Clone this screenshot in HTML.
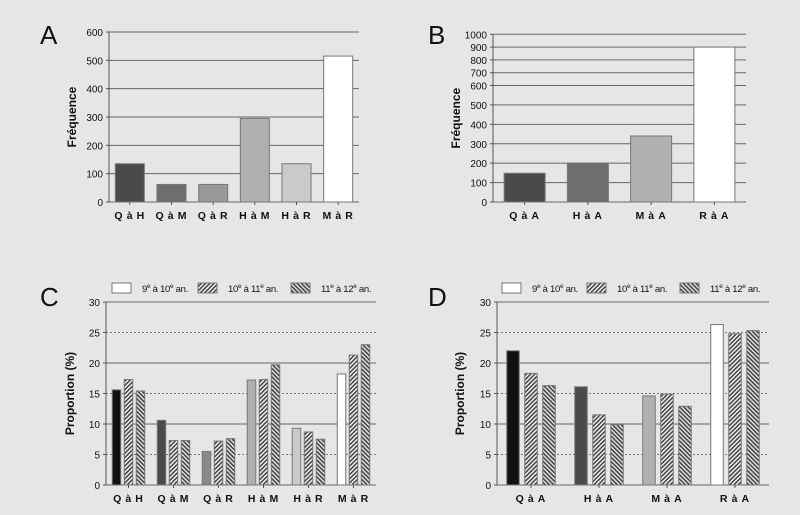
<!DOCTYPE html>
<html><head><meta charset="utf-8"><style>
html,body{margin:0;padding:0;background:#e6e6e6;}
svg{display:block;font-family:"Liberation Sans",sans-serif;}
</style></head><body>
<svg id="fig" width="800" height="515" viewBox="0 0 800 515">
<defs>
<pattern id="hatch1" width="3" height="3" patternUnits="userSpaceOnUse" patternTransform="rotate(45)"><rect width="3" height="3" fill="#eee"/><rect width="1.5" height="3" fill="#444"/></pattern>
<pattern id="hatch2" width="3" height="3" patternUnits="userSpaceOnUse" patternTransform="rotate(-45)"><rect width="3" height="3" fill="#ddd"/><rect width="1.5" height="3" fill="#444"/></pattern>
</defs>
<g id="root"></g>
</svg>
<script>
const catsA = ["Q à H","Q à M","Q à R","H à M","H à R","M à R"];
const valsA = [135, 62, 62, 295, 135, 515];
const colorsA = ["#4a4a4a","#6e6e6e","#999999","#b0b0b0","#cacaca","#ffffff"];
const ticksA = [0,100,200,300,400,500,600];

const catsB = ["Q à A","H à A","M à A","R à A"];
const valsB = [148, 200, 340, 900];
const colorsB = ["#4a4a4a","#6e6e6e","#b0b0b0","#ffffff"];
const ticksB = [0,100,200,300,400,500,600,700,800,900,1000];

const catsC = ["Q à H","Q à M","Q à R","H à M","H à R","M à R"];
const c9_10 = [15.6, 10.6, 5.5, 17.2, 9.3, 18.2];
const c10_11 = [17.3, 7.3, 7.2, 17.3, 8.7, 21.3];
const c11_12 = [15.4, 7.3, 7.6, 19.7, 7.5, 23.0];
const colorsC = ["#111111","#4a4a4a","#8a8a8a","#b0b0b0","#cacaca","#ffffff"];

const catsD = ["Q à A","H à A","M à A","R à A"];
const d9_10 = [22.0, 16.1, 14.6, 26.3];
const d10_11 = [18.3, 11.5, 14.9, 24.8];
const d11_12 = [16.3, 9.9, 12.9, 25.3];
const colorsD = ["#111111","#4a4a4a","#b0b0b0","#ffffff"];
const ticksP = [0,5,10,15,20,25,30];

const NS="http://www.w3.org/2000/svg";
const root=document.getElementById('root');
function mk(tag,attrs,parent){const e=document.createElementNS(NS,tag);for(const k in attrs)e.setAttribute(k,attrs[k]);(parent||root).appendChild(e);return e;}
function txt(s,attrs,parent){const e=mk('text',attrs,parent);e.textContent=s;return e;}

function panel(letter,lx,ly,x0,x1,yfn,ticks,ytitle,ytx,dotted){
  const g=mk('g',{});
  
  
  const L=txt(letter,{x:lx,y:ly,'font-size':26,fill:'#111'},g);
  
  
  ticks.forEach((t,i)=>{
    const y=yfn(t);
    const isDot=dotted && (t%10!==0);
    const ln=mk('line',{x1:x0,x2:x1,y1:y,y2:y,stroke:isDot?'#777':'#666','stroke-width':1,'stroke-dasharray':isDot?'2,2':'none'},g);
    
    
    const tl=txt(String(t),{x:x0-6,y:y+4,'font-size':10,'text-anchor':'end',fill:'#111'},g);
    
    
    const tk=mk('line',{x1:x0-3,x2:x0,y1:y,y2:y,stroke:'#555'},g);
    
    
  });
  const ax=mk('line',{x1:x0,x2:x0,y1:yfn(ticks[ticks.length-1]),y2:yfn(0),stroke:'#555','stroke-width':1},g);
  
  
  const ym=(yfn(0)+yfn(ticks[ticks.length-1]))/2;
  const yt=txt(ytitle,{x:ytx,y:ym,'font-size':12,'font-weight':'bold','text-anchor':'middle',transform:`rotate(-90 ${ytx} ${ym})`,fill:'#111'},g);
  
  
  return g;
}
function xlabels(g,cats,x0,cw,y0){
  cats.forEach((c,i)=>{
    const cx=x0+cw*(i+0.5);
    const t=txt(c.replace(/ /g,'\u2009'),{x:cx,y:y0+17,'font-size':10.5,'font-weight':'bold','text-anchor':'middle','letter-spacing':'1',fill:'#111'},g);
    
    
    const tk=mk('line',{x1:cx,x2:cx,y1:y0,y2:y0+3,stroke:'#555'},g);
    
    
  });
}

// Panel A
(function(){
  const x0=109,x1=359,y0=202,ytop=32;
  const y=v=>y0-(v/600)*(y0-ytop);
  const g=panel('A',40,44,x0,x1,y,ticksA,'Fréquence',76,false);
  const cw=(x1-x0)/catsA.length;
  valsA.forEach((v,i)=>{
    const r=mk('rect',{x:x0+cw*i+(cw-29)/2,y:y(v),width:29,height:y0-y(v),fill:colorsA[i],stroke:'#777','stroke-width':1},g);
    
    
  });
  xlabels(g,catsA,x0,cw,y0);
})();

// Panel B (piecewise axis)
(function(){
  const x0=493,x1=746,y0=202;
  const knotsY=[202,85.5,34.3];
  const y=v=>{ if(v<=600) return knotsY[0]+(v/600)*(knotsY[1]-knotsY[0]); return knotsY[1]+((v-600)/400)*(knotsY[2]-knotsY[1]); };
  const g=panel('B',428,44,x0,x1,y,ticksB,'Fréquence',460,false);
  const cw=(x1-x0)/catsB.length;
  valsB.forEach((v,i)=>{
    const r=mk('rect',{x:x0+cw*i+(cw-41)/2,y:y(v),width:41,height:y0-y(v),fill:colorsB[i],stroke:'#777','stroke-width':1},g);
    
    
  });
  xlabels(g,catsB,x0,cw,y0);
})();

function legend(x,offs){
  const y=283;
  const g=mk('g',{});
  
  
  const items=[['#fff','9','10'],['url(#hatch1)','10','11'],['url(#hatch2)','11','12']];
  items.forEach((it,i)=>{
    const bx=x+offs[i];
    const r=mk('rect',{x:bx,y:y,width:19,height:10,fill:it[0],stroke:'#777'},g);
    
    
    const t=mk('text',{x:bx+30,y:y+9,'font-size':9.5,fill:'#111','letter-spacing':'-0.3'},g);
    
    
    t.innerHTML=`${it[1]}<tspan font-size="6.5" dy="-4">e</tspan><tspan dy="4"> à ${it[2]}</tspan><tspan font-size="6.5" dy="-4">e</tspan><tspan dy="4"> an.</tspan>`;
  });
}

function groupPanel(letter,lx,x0,x1,cats,s1,s2,s3,cols,bw,gap,ytx){
  const y0=485,ytop=302;
  const y=v=>y0-(v/30)*(y0-ytop);
  const g=panel(letter,lx,306,x0,x1,y,ticksP,'Proportion (%)',ytx,true);
  const cw=(x1-x0)/cats.length;
  const series=[s1,s2,s3];
  const gw=bw*3+gap*2;
  series.forEach((s,k)=>{
    s.forEach((v,i)=>{
      const fill=k===0?cols[i]:(k===1?'url(#hatch1)':'url(#hatch2)');
      const r=mk('rect',{x:x0+cw*i+(cw-gw)/2+k*(bw+gap),y:y(v),width:bw,height:y0-y(v),fill:fill,stroke:'#777','stroke-width':1},g);
      
      
    });
  });
  xlabels(g,cats,x0,cw,y0);
}
groupPanel('C',40,106,376,catsC,c9_10,c10_11,c11_12,colorsC,8.5,3.5,74);
groupPanel('D',428,497,769,catsD,d9_10,d10_11,d11_12,colorsD,12.5,5.5,464);
legend(112,[0,86,179]);
legend(502,[0,85,178]);
</script>
</body></html>
